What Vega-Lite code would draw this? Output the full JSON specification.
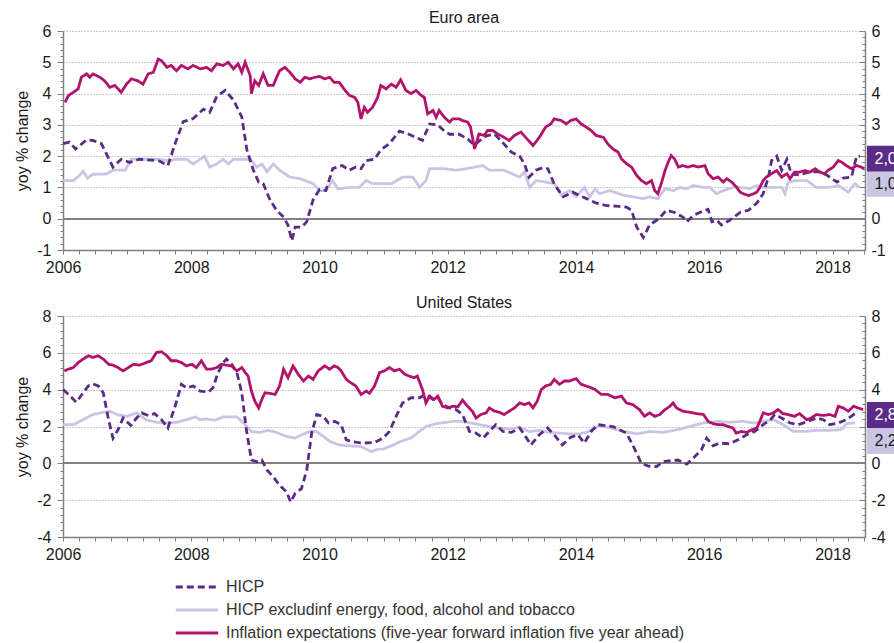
{
"$schema":"https://vega.github.io/schema/vega-lite/v6.json",
"background":"white",
"padding":{"left":14,"top":10,"right":0,"bottom":0},
"config":{"font":"Liberation Sans","view":{"stroke":null},
"axis":{"labelFont":"Liberation Sans","labelFontSize":16,"labelColor":"#1a1a1a","domainColor":"#808080","tickColor":"#808080","titleFont":"Liberation Sans","titleFontSize":16,"titleFontWeight":"normal","titleColor":"#1a1a1a"},
"title":{"font":"Liberation Sans","fontSize":16,"fontWeight":"normal","color":"#1a1a1a"}},
"datasets":{
"ea":[
{"t":"2006-01-01","s":"b","v":1.22},{"t":"2006-02-28","s":"b","v":1.22},{"t":"2006-04-04","s":"b","v":1.38},{"t":"2006-04-25","s":"b","v":1.52},{"t":"2006-05-20","s":"b","v":1.3},{"t":"2006-06-20","s":"b","v":1.42},{"t":"2006-09-05","s":"b","v":1.43},{"t":"2006-10-12","s":"b","v":1.55},{"t":"2006-12-20","s":"b","v":1.55},{"t":"2007-01-25","s":"b","v":1.9},{"t":"2007-07-01","s":"b","v":1.9},{"t":"2007-09-01","s":"b","v":1.85},{"t":"2007-10-01","s":"b","v":1.9},{"t":"2007-12-05","s":"b","v":1.9},{"t":"2008-01-12","s":"b","v":1.75},{"t":"2008-03-17","s":"b","v":2.0},{"t":"2008-04-15","s":"b","v":1.65},{"t":"2008-05-25","s":"b","v":1.75},{"t":"2008-07-01","s":"b","v":1.9},{"t":"2008-07-30","s":"b","v":1.75},{"t":"2008-08-28","s":"b","v":1.9},{"t":"2008-12-05","s":"b","v":1.9},{"t":"2009-01-08","s":"b","v":1.65},{"t":"2009-02-07","s":"b","v":1.75},{"t":"2009-03-07","s":"b","v":1.5},{"t":"2009-04-12","s":"b","v":1.75},{"t":"2009-05-18","s":"b","v":1.55},{"t":"2009-07-16","s":"b","v":1.33},{"t":"2009-09-13","s":"b","v":1.28},{"t":"2009-11-25","s":"b","v":1.12},{"t":"2010-01-01","s":"b","v":0.9},{"t":"2010-02-06","s":"b","v":0.9},{"t":"2010-03-17","s":"b","v":1.22},{"t":"2010-04-16","s":"b","v":0.95},{"t":"2010-06-20","s":"b","v":1.0},{"t":"2010-08-15","s":"b","v":1.0},{"t":"2010-09-24","s":"b","v":1.22},{"t":"2010-10-30","s":"b","v":1.12},{"t":"2011-02-14","s":"b","v":1.12},{"t":"2011-04-20","s":"b","v":1.33},{"t":"2011-06-17","s":"b","v":1.33},{"t":"2011-07-24","s":"b","v":1.0},{"t":"2011-08-30","s":"b","v":1.22},{"t":"2011-09-20","s":"b","v":1.6},{"t":"2011-12-13","s":"b","v":1.6},{"t":"2012-02-17","s":"b","v":1.55},{"t":"2012-04-16","s":"b","v":1.6},{"t":"2012-07-20","s":"b","v":1.7},{"t":"2012-08-25","s":"b","v":1.55},{"t":"2012-11-17","s":"b","v":1.55},{"t":"2013-01-05","s":"b","v":1.43},{"t":"2013-02-14","s":"b","v":1.33},{"t":"2013-03-13","s":"b","v":1.5},{"t":"2013-04-12","s":"b","v":1.0},{"t":"2013-05-18","s":"b","v":1.22},{"t":"2013-07-12","s":"b","v":1.17},{"t":"2013-08-30","s":"b","v":1.12},{"t":"2013-10-09","s":"b","v":0.75},{"t":"2013-11-25","s":"b","v":0.9},{"t":"2014-01-01","s":"b","v":0.7},{"t":"2014-02-17","s":"b","v":1.0},{"t":"2014-03-20","s":"b","v":0.7},{"t":"2014-04-19","s":"b","v":0.96},{"t":"2014-05-15","s":"b","v":0.8},{"t":"2014-07-12","s":"b","v":0.9},{"t":"2014-09-28","s":"b","v":0.75},{"t":"2014-11-25","s":"b","v":0.7},{"t":"2015-01-19","s":"b","v":0.64},{"t":"2015-02-24","s":"b","v":0.7},{"t":"2015-04-12","s":"b","v":0.64},{"t":"2015-05-23","s":"b","v":0.96},{"t":"2015-07-09","s":"b","v":0.9},{"t":"2015-08-15","s":"b","v":1.0},{"t":"2015-09-24","s":"b","v":0.96},{"t":"2015-10-30","s":"b","v":1.06},{"t":"2015-12-28","s":"b","v":1.0},{"t":"2016-02-03","s":"b","v":1.0},{"t":"2016-03-10","s":"b","v":0.8},{"t":"2016-04-19","s":"b","v":0.9},{"t":"2016-06-13","s":"b","v":1.0},{"t":"2016-07-30","s":"b","v":1.0},{"t":"2016-09-16","s":"b","v":0.96},{"t":"2016-10-27","s":"b","v":1.06},{"t":"2016-12-02","s":"b","v":1.0},{"t":"2017-01-19","s":"b","v":1.0},{"t":"2017-03-17","s":"b","v":1.0},{"t":"2017-04-05","s":"b","v":0.8},{"t":"2017-04-23","s":"b","v":1.17},{"t":"2017-06-10","s":"b","v":1.22},{"t":"2017-08-08","s":"b","v":1.22},{"t":"2017-10-01","s":"b","v":1.0},{"t":"2017-12-16","s":"b","v":1.0},{"t":"2018-02-03","s":"b","v":1.06},{"t":"2018-04-01","s":"b","v":0.85},{"t":"2018-05-08","s":"b","v":1.12},{"t":"2018-06-05","s":"b","v":1.0},
{"t":"2006-01-01","s":"a","v":2.4},{"t":"2006-02-06","s":"a","v":2.45},{"t":"2006-03-13","s":"a","v":2.23},{"t":"2006-05-15","s":"a","v":2.52},{"t":"2006-06-20","s":"a","v":2.5},{"t":"2006-08-07","s":"a","v":2.4},{"t":"2006-09-05","s":"a","v":2.07},{"t":"2006-10-12","s":"a","v":1.65},{"t":"2006-11-28","s":"a","v":1.9},{"t":"2007-01-15","s":"a","v":1.8},{"t":"2007-03-13","s":"a","v":1.9},{"t":"2007-07-01","s":"a","v":1.85},{"t":"2007-08-21","s":"a","v":1.7},{"t":"2007-10-01","s":"a","v":2.4},{"t":"2007-11-16","s":"a","v":3.1},{"t":"2008-01-12","s":"a","v":3.2},{"t":"2008-03-10","s":"a","v":3.5},{"t":"2008-04-15","s":"a","v":3.4},{"t":"2008-05-25","s":"a","v":3.9},{"t":"2008-07-12","s":"a","v":4.1},{"t":"2008-08-28","s":"a","v":3.8},{"t":"2008-10-15","s":"a","v":3.25},{"t":"2008-11-13","s":"a","v":2.2},{"t":"2008-12-20","s":"a","v":1.55},{"t":"2009-01-19","s":"a","v":1.17},{"t":"2009-02-14","s":"a","v":1.12},{"t":"2009-03-25","s":"a","v":0.6},{"t":"2009-05-01","s":"a","v":0.27},{"t":"2009-06-10","s":"a","v":0.05},{"t":"2009-07-05","s":"a","v":-0.2},{"t":"2009-07-27","s":"a","v":-0.7},{"t":"2009-08-15","s":"a","v":-0.27},{"t":"2009-09-20","s":"a","v":-0.27},{"t":"2009-10-20","s":"a","v":-0.1},{"t":"2009-11-25","s":"a","v":0.6},{"t":"2010-01-01","s":"a","v":0.93},{"t":"2010-02-06","s":"a","v":0.9},{"t":"2010-03-17","s":"a","v":1.6},{"t":"2010-05-10","s":"a","v":1.7},{"t":"2010-06-20","s":"a","v":1.55},{"t":"2010-07-27","s":"a","v":1.65},{"t":"2010-08-25","s":"a","v":1.6},{"t":"2010-09-24","s":"a","v":1.86},{"t":"2010-11-10","s":"a","v":1.9},{"t":"2010-12-16","s":"a","v":2.2},{"t":"2011-02-03","s":"a","v":2.4},{"t":"2011-04-01","s":"a","v":2.8},{"t":"2011-05-25","s":"a","v":2.7},{"t":"2011-08-10","s":"a","v":2.5},{"t":"2011-09-20","s":"a","v":3.03},{"t":"2011-11-06","s":"a","v":3.0},{"t":"2011-12-13","s":"a","v":2.8},{"t":"2012-01-12","s":"a","v":2.7},{"t":"2012-03-06","s":"a","v":2.7},{"t":"2012-04-23","s":"a","v":2.55},{"t":"2012-06-02","s":"a","v":2.35},{"t":"2012-07-01","s":"a","v":2.5},{"t":"2012-08-07","s":"a","v":2.65},{"t":"2012-09-24","s":"a","v":2.7},{"t":"2012-10-30","s":"a","v":2.5},{"t":"2012-12-28","s":"a","v":2.13},{"t":"2013-02-14","s":"a","v":2.0},{"t":"2013-03-13","s":"a","v":1.75},{"t":"2013-04-08","s":"a","v":1.33},{"t":"2013-05-18","s":"a","v":1.55},{"t":"2013-06-24","s":"a","v":1.63},{"t":"2013-07-24","s":"a","v":1.6},{"t":"2013-08-30","s":"a","v":1.1},{"t":"2013-10-20","s":"a","v":0.7},{"t":"2013-12-13","s":"a","v":0.85},{"t":"2014-02-06","s":"a","v":0.7},{"t":"2014-03-17","s":"a","v":0.6},{"t":"2014-04-26","s":"a","v":0.5},{"t":"2014-06-24","s":"a","v":0.42},{"t":"2014-08-18","s":"a","v":0.4},{"t":"2014-10-15","s":"a","v":0.37},{"t":"2014-11-13","s":"a","v":0.27},{"t":"2014-12-13","s":"a","v":-0.27},{"t":"2015-01-19","s":"a","v":-0.6},{"t":"2015-02-24","s":"a","v":-0.2},{"t":"2015-04-05","s":"a","v":-0.05},{"t":"2015-05-04","s":"a","v":0.1},{"t":"2015-05-30","s":"a","v":0.27},{"t":"2015-07-16","s":"a","v":0.2},{"t":"2015-09-02","s":"a","v":0.05},{"t":"2015-09-24","s":"a","v":-0.1},{"t":"2015-10-30","s":"a","v":0.1},{"t":"2015-12-06","s":"a","v":0.2},{"t":"2016-01-23","s":"a","v":0.3},{"t":"2016-02-14","s":"a","v":-0.1},{"t":"2016-03-13","s":"a","v":-0.05},{"t":"2016-04-08","s":"a","v":-0.2},{"t":"2016-05-25","s":"a","v":-0.05},{"t":"2016-07-23","s":"a","v":0.2},{"t":"2016-09-09","s":"a","v":0.27},{"t":"2016-10-27","s":"a","v":0.5},{"t":"2016-12-02","s":"a","v":0.8},{"t":"2017-01-01","s":"a","v":1.33},{"t":"2017-01-19","s":"a","v":1.86},{"t":"2017-02-17","s":"a","v":2.0},{"t":"2017-03-17","s":"a","v":1.55},{"t":"2017-04-16","s":"a","v":1.9},{"t":"2017-05-11","s":"a","v":1.43},{"t":"2017-06-28","s":"a","v":1.4},{"t":"2017-08-25","s":"a","v":1.5},{"t":"2017-10-19","s":"a","v":1.5},{"t":"2017-11-28","s":"a","v":1.4},{"t":"2018-01-26","s":"a","v":1.17},{"t":"2018-03-03","s":"a","v":1.3},{"t":"2018-04-19","s":"a","v":1.33},{"t":"2018-05-18","s":"a","v":2.0},{"t":"2018-06-06","s":"a","v":2.0},
{"t":"2006-01-12","s":"c","v":3.72},{"t":"2006-02-01","s":"c","v":3.94},{"t":"2006-02-28","s":"c","v":4.04},{"t":"2006-03-28","s":"c","v":4.15},{"t":"2006-04-15","s":"c","v":4.52},{"t":"2006-05-15","s":"c","v":4.63},{"t":"2006-06-02","s":"c","v":4.52},{"t":"2006-06-20","s":"c","v":4.63},{"t":"2006-07-30","s":"c","v":4.52},{"t":"2006-08-25","s":"c","v":4.41},{"t":"2006-09-24","s":"c","v":4.2},{"t":"2006-10-23","s":"c","v":4.26},{"t":"2006-11-28","s":"c","v":4.04},{"t":"2006-12-28","s":"c","v":4.3},{"t":"2007-01-25","s":"c","v":4.47},{"t":"2007-03-03","s":"c","v":4.41},{"t":"2007-04-01","s":"c","v":4.3},{"t":"2007-05-01","s":"c","v":4.63},{"t":"2007-05-30","s":"c","v":4.68},{"t":"2007-06-27","s":"c","v":5.1},{"t":"2007-07-16","s":"c","v":5.05},{"t":"2007-08-15","s":"c","v":4.84},{"t":"2007-09-09","s":"c","v":4.9},{"t":"2007-10-09","s":"c","v":4.73},{"t":"2007-11-06","s":"c","v":4.9},{"t":"2007-12-13","s":"c","v":4.79},{"t":"2008-01-12","s":"c","v":4.9},{"t":"2008-02-21","s":"c","v":4.79},{"t":"2008-03-28","s":"c","v":4.84},{"t":"2008-04-25","s":"c","v":4.73},{"t":"2008-05-25","s":"c","v":4.95},{"t":"2008-07-01","s":"c","v":4.9},{"t":"2008-07-30","s":"c","v":5.0},{"t":"2008-08-28","s":"c","v":4.79},{"t":"2008-09-24","s":"c","v":4.95},{"t":"2008-10-15","s":"c","v":4.68},{"t":"2008-11-03","s":"c","v":5.0},{"t":"2008-12-02","s":"c","v":4.57},{"t":"2008-12-09","s":"c","v":4.0},{"t":"2008-12-28","s":"c","v":4.41},{"t":"2009-01-19","s":"c","v":4.26},{"t":"2009-02-14","s":"c","v":4.63},{"t":"2009-03-13","s":"c","v":4.26},{"t":"2009-04-12","s":"c","v":4.26},{"t":"2009-05-18","s":"c","v":4.73},{"t":"2009-06-17","s":"c","v":4.84},{"t":"2009-07-16","s":"c","v":4.68},{"t":"2009-08-15","s":"c","v":4.47},{"t":"2009-09-13","s":"c","v":4.36},{"t":"2009-10-09","s":"c","v":4.52},{"t":"2009-11-06","s":"c","v":4.47},{"t":"2009-12-05","s":"c","v":4.52},{"t":"2010-01-01","s":"c","v":4.55},{"t":"2010-01-30","s":"c","v":4.47},{"t":"2010-02-28","s":"c","v":4.52},{"t":"2010-03-25","s":"c","v":4.36},{"t":"2010-04-23","s":"c","v":4.36},{"t":"2010-05-20","s":"c","v":4.15},{"t":"2010-06-20","s":"c","v":3.94},{"t":"2010-07-20","s":"c","v":3.88},{"t":"2010-08-07","s":"c","v":3.72},{"t":"2010-08-25","s":"c","v":3.19},{"t":"2010-09-13","s":"c","v":3.56},{"t":"2010-10-01","s":"c","v":3.4},{"t":"2010-10-30","s":"c","v":3.56},{"t":"2010-11-28","s":"c","v":3.88},{"t":"2010-12-16","s":"c","v":4.26},{"t":"2011-01-15","s":"c","v":4.15},{"t":"2011-02-14","s":"c","v":4.3},{"t":"2011-03-13","s":"c","v":4.2},{"t":"2011-04-08","s":"c","v":4.44},{"t":"2011-05-08","s":"c","v":4.1},{"t":"2011-06-06","s":"c","v":4.0},{"t":"2011-07-05","s":"c","v":4.1},{"t":"2011-08-03","s":"c","v":3.94},{"t":"2011-08-21","s":"c","v":3.88},{"t":"2011-09-09","s":"c","v":3.35},{"t":"2011-10-09","s":"c","v":3.46},{"t":"2011-10-27","s":"c","v":3.24},{"t":"2011-11-13","s":"c","v":3.46},{"t":"2011-12-13","s":"c","v":3.24},{"t":"2012-01-12","s":"c","v":3.09},{"t":"2012-01-30","s":"c","v":3.19},{"t":"2012-03-06","s":"c","v":3.19},{"t":"2012-03-25","s":"c","v":3.14},{"t":"2012-04-23","s":"c","v":3.09},{"t":"2012-05-10","s":"c","v":2.93},{"t":"2012-06-02","s":"c","v":2.23},{"t":"2012-06-27","s":"c","v":2.71},{"t":"2012-07-27","s":"c","v":2.66},{"t":"2012-08-15","s":"c","v":2.82},{"t":"2012-09-13","s":"c","v":2.82},{"t":"2012-10-12","s":"c","v":2.71},{"t":"2012-11-17","s":"c","v":2.6},{"t":"2012-12-16","s":"c","v":2.5},{"t":"2013-01-15","s":"c","v":2.66},{"t":"2013-02-21","s":"c","v":2.77},{"t":"2013-03-20","s":"c","v":2.6},{"t":"2013-05-01","s":"c","v":2.34},{"t":"2013-06-06","s":"c","v":2.6},{"t":"2013-07-12","s":"c","v":2.93},{"t":"2013-08-10","s":"c","v":3.03},{"t":"2013-08-30","s":"c","v":3.19},{"t":"2013-10-09","s":"c","v":3.14},{"t":"2013-11-06","s":"c","v":3.03},{"t":"2013-12-02","s":"c","v":3.14},{"t":"2014-01-01","s":"c","v":3.19},{"t":"2014-01-30","s":"c","v":3.03},{"t":"2014-02-28","s":"c","v":2.93},{"t":"2014-03-28","s":"c","v":2.82},{"t":"2014-04-25","s":"c","v":2.66},{"t":"2014-06-06","s":"c","v":2.6},{"t":"2014-07-01","s":"c","v":2.39},{"t":"2014-07-30","s":"c","v":2.23},{"t":"2014-08-28","s":"c","v":2.13},{"t":"2014-09-17","s":"c","v":1.91},{"t":"2014-10-15","s":"c","v":1.76},{"t":"2014-11-13","s":"c","v":1.65},{"t":"2014-12-13","s":"c","v":1.38},{"t":"2015-01-08","s":"c","v":1.22},{"t":"2015-02-06","s":"c","v":1.12},{"t":"2015-03-07","s":"c","v":1.22},{"t":"2015-03-25","s":"c","v":0.9},{"t":"2015-04-12","s":"c","v":0.8},{"t":"2015-05-04","s":"c","v":1.17},{"t":"2015-05-23","s":"c","v":1.54},{"t":"2015-06-10","s":"c","v":1.81},{"t":"2015-06-27","s":"c","v":2.02},{"t":"2015-07-16","s":"c","v":1.91},{"t":"2015-08-07","s":"c","v":1.65},{"t":"2015-09-01","s":"c","v":1.7},{"t":"2015-10-01","s":"c","v":1.65},{"t":"2015-10-30","s":"c","v":1.7},{"t":"2015-11-28","s":"c","v":1.65},{"t":"2016-01-05","s":"c","v":1.7},{"t":"2016-01-23","s":"c","v":1.44},{"t":"2016-02-21","s":"c","v":1.28},{"t":"2016-03-20","s":"c","v":1.33},{"t":"2016-04-19","s":"c","v":1.17},{"t":"2016-05-08","s":"c","v":1.28},{"t":"2016-06-06","s":"c","v":1.17},{"t":"2016-07-05","s":"c","v":1.0},{"t":"2016-07-23","s":"c","v":0.85},{"t":"2016-08-10","s":"c","v":0.8},{"t":"2016-09-09","s":"c","v":0.74},{"t":"2016-10-09","s":"c","v":0.8},{"t":"2016-10-27","s":"c","v":0.85},{"t":"2016-11-13","s":"c","v":1.0},{"t":"2016-12-02","s":"c","v":1.22},{"t":"2016-12-20","s":"c","v":1.33},{"t":"2017-01-19","s":"c","v":1.44},{"t":"2017-02-17","s":"c","v":1.54},{"t":"2017-03-17","s":"c","v":1.33},{"t":"2017-04-16","s":"c","v":1.44},{"t":"2017-05-04","s":"c","v":1.28},{"t":"2017-05-30","s":"c","v":1.49},{"t":"2017-06-27","s":"c","v":1.49},{"t":"2017-07-27","s":"c","v":1.54},{"t":"2017-08-25","s":"c","v":1.49},{"t":"2017-09-24","s":"c","v":1.6},{"t":"2017-10-20","s":"c","v":1.49},{"t":"2017-11-17","s":"c","v":1.44},{"t":"2017-12-05","s":"c","v":1.54},{"t":"2018-01-05","s":"c","v":1.65},{"t":"2018-02-03","s":"c","v":1.86},{"t":"2018-02-21","s":"c","v":1.81},{"t":"2018-03-20","s":"c","v":1.7},{"t":"2018-04-19","s":"c","v":1.6},{"t":"2018-05-18","s":"c","v":1.7},{"t":"2018-06-13","s":"c","v":1.65},{"t":"2018-07-01","s":"c","v":1.6}
],
"us":[
{"t":"2006-01-01","s":"b","v":2.1},{"t":"2006-02-28","s":"b","v":2.1},{"t":"2006-04-25","s":"b","v":2.37},{"t":"2006-06-20","s":"b","v":2.65},{"t":"2006-08-18","s":"b","v":2.77},{"t":"2006-09-24","s":"b","v":2.83},{"t":"2006-11-03","s":"b","v":2.65},{"t":"2006-12-28","s":"b","v":2.55},{"t":"2007-02-24","s":"b","v":2.74},{"t":"2007-04-19","s":"b","v":2.37},{"t":"2007-06-17","s":"b","v":2.23},{"t":"2007-08-15","s":"b","v":2.19},{"t":"2007-10-09","s":"b","v":2.23},{"t":"2007-12-05","s":"b","v":2.37},{"t":"2008-01-23","s":"b","v":2.52},{"t":"2008-02-21","s":"b","v":2.37},{"t":"2008-03-28","s":"b","v":2.41},{"t":"2008-05-15","s":"b","v":2.34},{"t":"2008-07-01","s":"b","v":2.52},{"t":"2008-09-17","s":"b","v":2.52},{"t":"2008-11-03","s":"b","v":2.1},{"t":"2008-12-09","s":"b","v":1.73},{"t":"2009-01-26","s":"b","v":1.68},{"t":"2009-03-13","s":"b","v":1.79},{"t":"2009-05-01","s":"b","v":1.68},{"t":"2009-06-27","s":"b","v":1.46},{"t":"2009-08-15","s":"b","v":1.37},{"t":"2009-09-20","s":"b","v":1.55},{"t":"2009-11-06","s":"b","v":1.73},{"t":"2009-12-13","s":"b","v":1.73},{"t":"2010-01-23","s":"b","v":1.46},{"t":"2010-02-28","s":"b","v":1.19},{"t":"2010-04-23","s":"b","v":1.0},{"t":"2010-06-20","s":"b","v":0.95},{"t":"2010-08-25","s":"b","v":0.91},{"t":"2010-10-23","s":"b","v":0.64},{"t":"2010-11-28","s":"b","v":0.77},{"t":"2010-12-28","s":"b","v":0.77},{"t":"2011-02-14","s":"b","v":0.95},{"t":"2011-04-08","s":"b","v":1.19},{"t":"2011-06-06","s":"b","v":1.37},{"t":"2011-07-23","s":"b","v":1.73},{"t":"2011-08-30","s":"b","v":2.0},{"t":"2011-10-27","s":"b","v":2.15},{"t":"2011-12-24","s":"b","v":2.23},{"t":"2012-01-30","s":"b","v":2.28},{"t":"2012-03-25","s":"b","v":2.28},{"t":"2012-05-10","s":"b","v":2.19},{"t":"2012-07-01","s":"b","v":2.1},{"t":"2012-08-25","s":"b","v":2.0},{"t":"2012-10-23","s":"b","v":1.92},{"t":"2012-12-16","s":"b","v":1.86},{"t":"2013-02-14","s":"b","v":1.97},{"t":"2013-04-08","s":"b","v":1.73},{"t":"2013-06-06","s":"b","v":1.79},{"t":"2013-08-03","s":"b","v":1.68},{"t":"2013-09-28","s":"b","v":1.64},{"t":"2013-11-25","s":"b","v":1.6},{"t":"2014-01-19","s":"b","v":1.6},{"t":"2014-02-28","s":"b","v":1.68},{"t":"2014-04-19","s":"b","v":1.9},{"t":"2014-05-15","s":"b","v":2.04},{"t":"2014-07-12","s":"b","v":1.92},{"t":"2014-09-28","s":"b","v":1.73},{"t":"2014-12-13","s":"b","v":1.6},{"t":"2015-02-24","s":"b","v":1.73},{"t":"2015-05-10","s":"b","v":1.68},{"t":"2015-07-27","s":"b","v":1.82},{"t":"2015-10-12","s":"b","v":2.0},{"t":"2015-12-28","s":"b","v":2.19},{"t":"2016-03-10","s":"b","v":2.28},{"t":"2016-05-25","s":"b","v":2.23},{"t":"2016-08-10","s":"b","v":2.28},{"t":"2016-10-09","s":"b","v":2.19},{"t":"2016-12-02","s":"b","v":2.28},{"t":"2017-01-30","s":"b","v":2.37},{"t":"2017-03-25","s":"b","v":2.1},{"t":"2017-05-23","s":"b","v":1.73},{"t":"2017-07-20","s":"b","v":1.73},{"t":"2017-10-01","s":"b","v":1.79},{"t":"2017-12-16","s":"b","v":1.79},{"t":"2018-02-14","s":"b","v":1.82},{"t":"2018-03-03","s":"b","v":1.92},{"t":"2018-03-20","s":"b","v":2.15},{"t":"2018-05-08","s":"b","v":2.2},
{"t":"2006-01-01","s":"a","v":4.01},{"t":"2006-02-01","s":"a","v":3.74},{"t":"2006-03-17","s":"a","v":3.32},{"t":"2006-04-25","s":"a","v":3.83},{"t":"2006-05-25","s":"a","v":4.2},{"t":"2006-06-20","s":"a","v":4.32},{"t":"2006-07-20","s":"a","v":4.2},{"t":"2006-08-18","s":"a","v":3.83},{"t":"2006-09-17","s":"a","v":2.37},{"t":"2006-10-12","s":"a","v":1.37},{"t":"2006-11-10","s":"a","v":1.82},{"t":"2006-12-09","s":"a","v":2.46},{"t":"2006-12-28","s":"a","v":2.28},{"t":"2007-01-22","s":"a","v":2.06},{"t":"2007-02-24","s":"a","v":2.46},{"t":"2007-03-25","s":"a","v":2.74},{"t":"2007-05-01","s":"a","v":2.6},{"t":"2007-06-06","s":"a","v":2.7},{"t":"2007-07-16","s":"a","v":2.37},{"t":"2007-08-21","s":"a","v":1.92},{"t":"2007-10-01","s":"a","v":3.1},{"t":"2007-11-06","s":"a","v":4.29},{"t":"2007-12-05","s":"a","v":4.1},{"t":"2008-01-12","s":"a","v":4.2},{"t":"2008-02-21","s":"a","v":3.92},{"t":"2008-04-08","s":"a","v":3.87},{"t":"2008-05-04","s":"a","v":4.1},{"t":"2008-06-02","s":"a","v":4.93},{"t":"2008-07-01","s":"a","v":5.47},{"t":"2008-07-20","s":"a","v":5.66},{"t":"2008-08-18","s":"a","v":5.38},{"t":"2008-09-17","s":"a","v":4.93},{"t":"2008-10-15","s":"a","v":3.83},{"t":"2008-11-10","s":"a","v":1.82},{"t":"2008-12-09","s":"a","v":0.18},{"t":"2009-01-08","s":"a","v":0.09},{"t":"2009-02-06","s":"a","v":0.18},{"t":"2009-03-07","s":"a","v":-0.36},{"t":"2009-04-12","s":"a","v":-0.73},{"t":"2009-05-18","s":"a","v":-1.19},{"t":"2009-06-27","s":"a","v":-1.55},{"t":"2009-07-20","s":"a","v":-2.1},{"t":"2009-08-15","s":"a","v":-1.64},{"t":"2009-09-20","s":"a","v":-1.37},{"t":"2009-10-20","s":"a","v":-0.36},{"t":"2009-11-17","s":"a","v":1.64},{"t":"2009-12-16","s":"a","v":2.65},{"t":"2010-01-23","s":"a","v":2.55},{"t":"2010-02-21","s":"a","v":2.19},{"t":"2010-03-28","s":"a","v":2.28},{"t":"2010-05-04","s":"a","v":2.1},{"t":"2010-06-02","s":"a","v":1.28},{"t":"2010-06-27","s":"a","v":1.19},{"t":"2010-09-05","s":"a","v":1.1},{"t":"2010-11-10","s":"a","v":1.13},{"t":"2010-12-28","s":"a","v":1.37},{"t":"2011-02-03","s":"a","v":1.73},{"t":"2011-03-13","s":"a","v":2.55},{"t":"2011-04-19","s":"a","v":3.28},{"t":"2011-06-06","s":"a","v":3.56},{"t":"2011-07-23","s":"a","v":3.56},{"t":"2011-08-30","s":"a","v":3.74},{"t":"2011-10-09","s":"a","v":3.47},{"t":"2011-11-06","s":"a","v":3.56},{"t":"2011-12-02","s":"a","v":3.19},{"t":"2012-01-12","s":"a","v":3.01},{"t":"2012-02-17","s":"a","v":2.92},{"t":"2012-03-25","s":"a","v":2.65},{"t":"2012-05-04","s":"a","v":1.73},{"t":"2012-06-10","s":"a","v":1.64},{"t":"2012-07-20","s":"a","v":1.37},{"t":"2012-08-25","s":"a","v":1.73},{"t":"2012-10-01","s":"a","v":2.1},{"t":"2012-11-10","s":"a","v":1.73},{"t":"2012-12-28","s":"a","v":1.68},{"t":"2013-02-14","s":"a","v":1.92},{"t":"2013-03-13","s":"a","v":1.55},{"t":"2013-04-19","s":"a","v":1.0},{"t":"2013-06-06","s":"a","v":1.55},{"t":"2013-07-23","s":"a","v":1.92},{"t":"2013-08-30","s":"a","v":1.55},{"t":"2013-10-15","s":"a","v":1.0},{"t":"2013-12-02","s":"a","v":1.42},{"t":"2014-01-12","s":"a","v":1.55},{"t":"2014-02-17","s":"a","v":1.1},{"t":"2014-03-28","s":"a","v":1.73},{"t":"2014-05-04","s":"a","v":2.1},{"t":"2014-07-30","s":"a","v":2.0},{"t":"2014-10-15","s":"a","v":1.64},{"t":"2014-11-20","s":"a","v":1.0},{"t":"2015-01-08","s":"a","v":0.0},{"t":"2015-02-17","s":"a","v":-0.15},{"t":"2015-04-05","s":"a","v":-0.18},{"t":"2015-05-10","s":"a","v":0.09},{"t":"2015-06-27","s":"a","v":0.15},{"t":"2015-08-03","s":"a","v":0.18},{"t":"2015-09-24","s":"a","v":-0.04},{"t":"2015-10-30","s":"a","v":0.27},{"t":"2015-12-16","s":"a","v":0.73},{"t":"2016-01-15","s":"a","v":1.37},{"t":"2016-02-21","s":"a","v":0.95},{"t":"2016-03-28","s":"a","v":1.1},{"t":"2016-05-25","s":"a","v":1.06},{"t":"2016-07-12","s":"a","v":1.28},{"t":"2016-08-30","s":"a","v":1.55},{"t":"2016-10-15","s":"a","v":1.73},{"t":"2016-12-02","s":"a","v":2.1},{"t":"2017-01-12","s":"a","v":2.37},{"t":"2017-02-06","s":"a","v":2.65},{"t":"2017-03-17","s":"a","v":2.46},{"t":"2017-05-04","s":"a","v":2.19},{"t":"2017-06-20","s":"a","v":2.1},{"t":"2017-08-15","s":"a","v":2.28},{"t":"2017-10-01","s":"a","v":2.46},{"t":"2017-11-10","s":"a","v":2.37},{"t":"2017-12-16","s":"a","v":2.1},{"t":"2018-02-03","s":"a","v":2.19},{"t":"2018-03-20","s":"a","v":2.37},{"t":"2018-05-01","s":"a","v":2.65},{"t":"2018-05-25","s":"a","v":2.85},
{"t":"2006-01-08","s":"c","v":5.02},{"t":"2006-01-30","s":"c","v":5.11},{"t":"2006-02-28","s":"c","v":5.2},{"t":"2006-03-28","s":"c","v":5.47},{"t":"2006-04-25","s":"c","v":5.66},{"t":"2006-05-25","s":"c","v":5.84},{"t":"2006-06-20","s":"c","v":5.75},{"t":"2006-07-20","s":"c","v":5.84},{"t":"2006-08-18","s":"c","v":5.66},{"t":"2006-09-17","s":"c","v":5.38},{"t":"2006-10-12","s":"c","v":5.33},{"t":"2006-11-10","s":"c","v":5.2},{"t":"2006-12-09","s":"c","v":5.02},{"t":"2007-01-08","s":"c","v":5.2},{"t":"2007-02-06","s":"c","v":5.38},{"t":"2007-03-13","s":"c","v":5.33},{"t":"2007-04-19","s":"c","v":5.47},{"t":"2007-05-18","s":"c","v":5.57},{"t":"2007-06-17","s":"c","v":6.02},{"t":"2007-07-16","s":"c","v":6.06},{"t":"2007-08-15","s":"c","v":5.84},{"t":"2007-09-09","s":"c","v":5.57},{"t":"2007-10-09","s":"c","v":5.57},{"t":"2007-11-06","s":"c","v":5.47},{"t":"2007-12-05","s":"c","v":5.29},{"t":"2008-01-05","s":"c","v":5.38},{"t":"2008-01-30","s":"c","v":5.2},{"t":"2008-02-28","s":"c","v":5.57},{"t":"2008-03-28","s":"c","v":5.11},{"t":"2008-04-25","s":"c","v":5.11},{"t":"2008-05-25","s":"c","v":5.2},{"t":"2008-06-20","s":"c","v":5.38},{"t":"2008-07-20","s":"c","v":5.33},{"t":"2008-08-18","s":"c","v":5.29},{"t":"2008-09-17","s":"c","v":5.02},{"t":"2008-10-15","s":"c","v":5.2},{"t":"2008-11-03","s":"c","v":4.93},{"t":"2008-11-20","s":"c","v":4.74},{"t":"2008-12-09","s":"c","v":3.92},{"t":"2008-12-28","s":"c","v":3.38},{"t":"2009-01-19","s":"c","v":3.01},{"t":"2009-02-06","s":"c","v":3.47},{"t":"2009-02-24","s":"c","v":3.83},{"t":"2009-03-25","s":"c","v":3.8},{"t":"2009-04-23","s":"c","v":3.74},{"t":"2009-05-18","s":"c","v":4.2},{"t":"2009-06-10","s":"c","v":5.11},{"t":"2009-07-05","s":"c","v":4.65},{"t":"2009-08-03","s":"c","v":5.29},{"t":"2009-09-01","s":"c","v":4.84},{"t":"2009-10-01","s":"c","v":4.47},{"t":"2009-10-30","s":"c","v":4.74},{"t":"2009-11-25","s":"c","v":4.56},{"t":"2009-12-24","s":"c","v":5.02},{"t":"2010-01-30","s":"c","v":5.29},{"t":"2010-02-28","s":"c","v":5.11},{"t":"2010-03-25","s":"c","v":5.29},{"t":"2010-04-16","s":"c","v":5.2},{"t":"2010-05-04","s":"c","v":5.02},{"t":"2010-06-02","s":"c","v":4.56},{"t":"2010-06-27","s":"c","v":4.38},{"t":"2010-07-27","s":"c","v":4.2},{"t":"2010-08-25","s":"c","v":3.74},{"t":"2010-09-24","s":"c","v":3.92},{"t":"2010-10-12","s":"c","v":3.8},{"t":"2010-11-10","s":"c","v":4.2},{"t":"2010-12-09","s":"c","v":4.93},{"t":"2011-01-05","s":"c","v":5.02},{"t":"2011-02-03","s":"c","v":5.2},{"t":"2011-03-03","s":"c","v":5.02},{"t":"2011-04-01","s":"c","v":5.11},{"t":"2011-05-01","s":"c","v":4.84},{"t":"2011-05-25","s":"c","v":4.74},{"t":"2011-06-24","s":"c","v":4.65},{"t":"2011-07-12","s":"c","v":4.74},{"t":"2011-08-10","s":"c","v":4.01},{"t":"2011-08-30","s":"c","v":3.28},{"t":"2011-09-20","s":"c","v":3.65},{"t":"2011-10-15","s":"c","v":3.47},{"t":"2011-11-06","s":"c","v":3.65},{"t":"2011-12-02","s":"c","v":3.1},{"t":"2012-01-01","s":"c","v":3.01},{"t":"2012-01-30","s":"c","v":3.1},{"t":"2012-02-28","s":"c","v":3.07},{"t":"2012-03-25","s":"c","v":3.43},{"t":"2012-04-23","s":"c","v":3.1},{"t":"2012-05-20","s":"c","v":2.83},{"t":"2012-06-10","s":"c","v":2.46},{"t":"2012-07-08","s":"c","v":2.65},{"t":"2012-08-07","s":"c","v":2.74},{"t":"2012-08-25","s":"c","v":3.01},{"t":"2012-09-24","s":"c","v":2.83},{"t":"2012-10-23","s":"c","v":2.77},{"t":"2012-11-17","s":"c","v":2.65},{"t":"2012-12-16","s":"c","v":2.83},{"t":"2013-01-15","s":"c","v":3.01},{"t":"2013-02-14","s":"c","v":3.28},{"t":"2013-03-13","s":"c","v":3.19},{"t":"2013-04-08","s":"c","v":3.28},{"t":"2013-05-01","s":"c","v":3.01},{"t":"2013-05-25","s":"c","v":3.38},{"t":"2013-06-17","s":"c","v":4.01},{"t":"2013-07-12","s":"c","v":4.2},{"t":"2013-08-10","s":"c","v":4.29},{"t":"2013-08-30","s":"c","v":4.56},{"t":"2013-09-28","s":"c","v":4.29},{"t":"2013-10-27","s":"c","v":4.47},{"t":"2013-11-25","s":"c","v":4.47},{"t":"2014-01-01","s":"c","v":4.6},{"t":"2014-01-30","s":"c","v":4.29},{"t":"2014-02-28","s":"c","v":4.2},{"t":"2014-03-28","s":"c","v":4.1},{"t":"2014-04-19","s":"c","v":4.01},{"t":"2014-05-25","s":"c","v":3.74},{"t":"2014-07-01","s":"c","v":3.74},{"t":"2014-08-10","s":"c","v":3.56},{"t":"2014-09-17","s":"c","v":3.65},{"t":"2014-10-15","s":"c","v":3.28},{"t":"2014-11-20","s":"c","v":3.19},{"t":"2014-12-28","s":"c","v":2.92},{"t":"2015-01-26","s":"c","v":2.55},{"t":"2015-02-24","s":"c","v":2.74},{"t":"2015-03-25","s":"c","v":2.55},{"t":"2015-04-23","s":"c","v":2.65},{"t":"2015-05-23","s":"c","v":2.92},{"t":"2015-06-20","s":"c","v":3.1},{"t":"2015-07-08","s":"c","v":3.28},{"t":"2015-07-27","s":"c","v":3.01},{"t":"2015-09-01","s":"c","v":2.83},{"t":"2015-10-12","s":"c","v":2.77},{"t":"2015-11-17","s":"c","v":2.7},{"t":"2015-12-28","s":"c","v":2.65},{"t":"2016-01-23","s":"c","v":2.28},{"t":"2016-02-21","s":"c","v":2.15},{"t":"2016-03-20","s":"c","v":2.1},{"t":"2016-04-19","s":"c","v":2.1},{"t":"2016-05-15","s":"c","v":2.0},{"t":"2016-06-13","s":"c","v":1.92},{"t":"2016-07-01","s":"c","v":1.64},{"t":"2016-07-30","s":"c","v":1.73},{"t":"2016-08-30","s":"c","v":1.68},{"t":"2016-09-28","s":"c","v":1.82},{"t":"2016-10-27","s":"c","v":1.92},{"t":"2016-11-13","s":"c","v":2.28},{"t":"2016-12-02","s":"c","v":2.74},{"t":"2017-01-01","s":"c","v":2.65},{"t":"2017-01-30","s":"c","v":2.74},{"t":"2017-02-24","s":"c","v":2.92},{"t":"2017-03-25","s":"c","v":2.7},{"t":"2017-04-23","s":"c","v":2.65},{"t":"2017-05-30","s":"c","v":2.55},{"t":"2017-06-27","s":"c","v":2.7},{"t":"2017-08-07","s":"c","v":2.37},{"t":"2017-09-01","s":"c","v":2.46},{"t":"2017-10-01","s":"c","v":2.65},{"t":"2017-11-10","s":"c","v":2.6},{"t":"2017-12-16","s":"c","v":2.65},{"t":"2018-01-15","s":"c","v":2.55},{"t":"2018-02-03","s":"c","v":3.1},{"t":"2018-03-03","s":"c","v":3.01},{"t":"2018-04-01","s":"c","v":2.83},{"t":"2018-05-01","s":"c","v":3.1},{"t":"2018-05-25","s":"c","v":3.01},{"t":"2018-06-24","s":"c","v":2.92}
],
"eaBox":[{"s":"a","lab":"2,0","lo":1.5,"hi":2.33,"mid":1.91},{"s":"b","lab":"1,0","lo":0.7,"hi":1.5,"mid":1.1}],
"usBox":[{"s":"a","lab":"2,8","lo":1.92,"hi":3.33,"mid":2.62},{"s":"b","lab":"2,2","lo":0.51,"hi":1.92,"mid":1.2}]
},
"vconcat":[
{"width":802,"height":219,
"title":{"text":"Euro area","anchor":"middle","frame":"group","offset":-3},
"layer":[
{"data":{"name":"ea"},"mark":{"type":"rule","color":"#808080","strokeWidth":1.5},"encoding":{"y":{"datum":0,"type":"quantitative","scale":{"domain":[-1,6],"nice":false,"zero":false},"axis":null}}},
{"data":{"name":"ea"},"mark":{"type":"line","strokeWidth":2.8,"interpolate":"linear"},
"encoding":{
"x":{"field":"t","type":"temporal","scale":{"type":"utc","domain":[{"year":2005,"month":12,"date":31,"hours":12,"utc":true},{"year":2018,"month":7,"date":5,"utc":true}],"nice":false},
"axis":{"title":null,"orient":"bottom","tickCount":{"interval":"month","step":3},"labelExpr":"utcmonth(time(datum.value)+43200000)==0 && utcyear(time(datum.value)+43200000)%2==0 ? utcFormat(time(datum.value)+43200000,'%Y') : ''","labelFlush":false,"labelOverlap":false,"tickSize":4,"labelPadding":5,"grid":false,"domain":true,"ticks":true,"labels":true,"domainWidth":1.5}},
"y":{"field":"v","type":"quantitative","scale":{"domain":[-1,6],"nice":false,"zero":false},
"axis":{"orient":"left","title":"yoy % change","values":[-1,-0.8,-0.6,-0.4,-0.2,0,0.2,0.4,0.6,0.8,1,1.2,1.4,1.6,1.8,2,2.2,2.4,2.6,2.8,3,3.2,3.4,3.6,3.8,4,4.2,4.4,4.6,4.8,5,5.2,5.4,5.6,5.8,6],"labelExpr":"datum.value % 1 == 0 ? '' + datum.value : ''","labelOverlap":false,"labelFlush":false,"tickSize":{"condition":{"test":"datum.value % 1 == 0","value":6},"value":3},"labelPadding":6,"titlePadding":6,"grid":true,"gridDash":[1,2],"gridColor":"#999999","gridOpacity":{"condition":{"test":"datum.value % 1 == 0 && datum.value != 0 && datum.value != -1","value":1},"value":0},"domainWidth":1.5}},
"color":{"field":"s","type":"nominal","scale":{"domain":["a","b","c"],"range":["#5b2c86","#cbc5e4","#b3126a"]},
"legend":{"orient":"none","legendX":111,"legendY":548,"direction":"vertical","title":null,"symbolType":"stroke","symbolSize":1800,"symbolStrokeWidth":2.8,"clipHeight":16,"rowPadding":7,"padding":0,"labelFontSize":16,"labelFont":"Liberation Sans","labelColor":"#333333","labelLimit":0,"labelOffset":6,"labelExpr":"datum.label=='a' ? 'HICP' : datum.label=='b' ? 'HICP excludinf energy, food, alcohol and tobacco' : 'Inflation expectations (five-year forward inflation five year ahead)'"}},
"strokeDash":{"field":"s","type":"nominal","scale":{"domain":["a","b","c"],"range":[[7,4],[1,0],[1,0]]},
"legend":{"orient":"none","legendX":111,"legendY":548,"direction":"vertical","title":null,"symbolType":"stroke","symbolSize":1800,"symbolStrokeWidth":2.8,"clipHeight":16,"rowPadding":7,"padding":0,"labelFontSize":16,"labelFont":"Liberation Sans","labelColor":"#333333","labelLimit":0,"labelOffset":6,"labelExpr":"datum.label=='a' ? 'HICP' : datum.label=='b' ? 'HICP excludinf energy, food, alcohol and tobacco' : 'Inflation expectations (five-year forward inflation five year ahead)'"}}}},
{"data":{"name":"eaBox"},"mark":{"type":"rect"},
"encoding":{
"x":{"datum":{"year":2018,"month":7,"date":16,"utc":true},"type":"temporal"},
"x2":{"datum":{"year":2019,"month":3,"date":1,"utc":true}},
"y":{"field":"lo","type":"quantitative","scale":{"domain":[-1,6],"nice":false,"zero":false},
"axis":{"orient":"right","title":null,"values":[-1,-0.8,-0.6,-0.4,-0.2,0,0.2,0.4,0.6,0.8,1,1.2,1.4,1.6,1.8,2,2.2,2.4,2.6,2.8,3,3.2,3.4,3.6,3.8,4,4.2,4.4,4.6,4.8,5,5.2,5.4,5.6,5.8,6],"labelExpr":"datum.value % 1 == 0 && datum.value != 1 && datum.value != 2 ? '' + datum.value : ''","labelOverlap":false,"labelFlush":false,"tickSize":{"condition":{"test":"datum.value % 1 == 0","value":-6},"value":-3},"labelPadding":12,"grid":false,"domainWidth":1.5}},
"y2":{"field":"hi"},
"color":{"field":"s","type":"nominal","legend":null}}},
{"data":{"name":"eaBox"},"mark":{"type":"text","align":"left","baseline":"middle","fontSize":16,"font":"Liberation Sans"},
"encoding":{
"x":{"datum":{"year":2018,"month":8,"date":28,"utc":true},"type":"temporal"},
"y":{"field":"mid","type":"quantitative","axis":null},
"text":{"field":"lab"},
"color":{"condition":{"test":"datum.s=='a'","value":"#ffffff"},"value":"#1a1a1a"}}}
],
"resolve":{"axis":{"y":"independent"}}
},
{"width":802,"height":221,
"title":{"text":"United States","anchor":"middle","frame":"group","offset":-3},
"layer":[
{"data":{"name":"us"},"mark":{"type":"rule","color":"#808080","strokeWidth":1.5},"encoding":{"y":{"datum":0,"type":"quantitative","scale":{"domain":[-4,8],"nice":false,"zero":false},"axis":null}}},
{"data":{"name":"us"},"mark":{"type":"line","strokeWidth":2.8,"interpolate":"linear"},
"encoding":{
"x":{"field":"t","type":"temporal","scale":{"type":"utc","domain":[{"year":2005,"month":12,"date":31,"hours":12,"utc":true},{"year":2018,"month":7,"date":5,"utc":true}],"nice":false},
"axis":{"title":null,"orient":"bottom","tickCount":{"interval":"month","step":3},"labelExpr":"utcmonth(time(datum.value)+43200000)==0 && utcyear(time(datum.value)+43200000)%2==0 ? utcFormat(time(datum.value)+43200000,'%Y') : ''","labelFlush":false,"labelOverlap":false,"tickSize":4,"labelPadding":5,"grid":false,"domain":true,"ticks":true,"labels":true,"domainWidth":1.5}},
"y":{"field":"v","type":"quantitative","scale":{"domain":[-4,8],"nice":false,"zero":false},
"axis":{"orient":"left","title":"yoy % change","values":[-4,-3.6,-3.2,-2.8,-2.4,-2,-1.6,-1.2,-0.8,-0.4,0,0.4,0.8,1.2,1.6,2,2.4,2.8,3.2,3.6,4,4.4,4.8,5.2,5.6,6,6.4,6.8,7.2,7.6,8],"labelExpr":"datum.value % 1 == 0 ? '' + datum.value : ''","labelOverlap":false,"labelFlush":false,"tickSize":{"condition":{"test":"datum.value % 1 == 0","value":6},"value":3},"labelPadding":6,"titlePadding":6,"grid":true,"gridDash":[1,2],"gridColor":"#999999","gridOpacity":{"condition":{"test":"datum.value % 1 == 0 && datum.value != 0 && datum.value != -4","value":1},"value":0},"domainWidth":1.5}},
"color":{"field":"s","type":"nominal","scale":{"domain":["a","b","c"],"range":["#5b2c86","#cbc5e4","#b3126a"]},
"legend":{"orient":"none","legendX":111,"legendY":548,"direction":"vertical","title":null,"symbolType":"stroke","symbolSize":1800,"symbolStrokeWidth":2.8,"clipHeight":16,"rowPadding":7,"padding":0,"labelFontSize":16,"labelFont":"Liberation Sans","labelColor":"#333333","labelLimit":0,"labelOffset":6,"labelExpr":"datum.label=='a' ? 'HICP' : datum.label=='b' ? 'HICP excludinf energy, food, alcohol and tobacco' : 'Inflation expectations (five-year forward inflation five year ahead)'"}},
"strokeDash":{"field":"s","type":"nominal","scale":{"domain":["a","b","c"],"range":[[7,4],[1,0],[1,0]]},
"legend":{"orient":"none","legendX":111,"legendY":548,"direction":"vertical","title":null,"symbolType":"stroke","symbolSize":1800,"symbolStrokeWidth":2.8,"clipHeight":16,"rowPadding":7,"padding":0,"labelFontSize":16,"labelFont":"Liberation Sans","labelColor":"#333333","labelLimit":0,"labelOffset":6,"labelExpr":"datum.label=='a' ? 'HICP' : datum.label=='b' ? 'HICP excludinf energy, food, alcohol and tobacco' : 'Inflation expectations (five-year forward inflation five year ahead)'"}}}},
{"data":{"name":"usBox"},"mark":{"type":"rect"},
"encoding":{
"x":{"datum":{"year":2018,"month":7,"date":16,"utc":true},"type":"temporal"},
"x2":{"datum":{"year":2019,"month":3,"date":1,"utc":true}},
"y":{"field":"lo","type":"quantitative","scale":{"domain":[-4,8],"nice":false,"zero":false},
"axis":{"orient":"right","title":null,"values":[-4,-3.6,-3.2,-2.8,-2.4,-2,-1.6,-1.2,-0.8,-0.4,0,0.4,0.8,1.2,1.6,2,2.4,2.8,3.2,3.6,4,4.4,4.8,5.2,5.6,6,6.4,6.8,7.2,7.6,8],"labelExpr":"datum.value % 1 == 0 && datum.value != 2 ? '' + datum.value : ''","labelOverlap":false,"labelFlush":false,"tickSize":{"condition":{"test":"datum.value % 1 == 0","value":-6},"value":-3},"labelPadding":12,"grid":false,"domainWidth":1.5}},
"y2":{"field":"hi"},
"color":{"field":"s","type":"nominal","legend":null}}},
{"data":{"name":"usBox"},"mark":{"type":"text","align":"left","baseline":"middle","fontSize":16,"font":"Liberation Sans"},
"encoding":{
"x":{"datum":{"year":2018,"month":8,"date":28,"utc":true},"type":"temporal"},
"y":{"field":"mid","type":"quantitative","axis":null},
"text":{"field":"lab"},
"color":{"condition":{"test":"datum.s=='a'","value":"#ffffff"},"value":"#1a1a1a"}}}
],
"resolve":{"axis":{"y":"independent"}}
}
],
"spacing":20,
"resolve":{"scale":{"x":"independent","y":"independent","color":"shared","strokeDash":"shared"},"legend":{"color":"shared","strokeDash":"shared"}}
}
